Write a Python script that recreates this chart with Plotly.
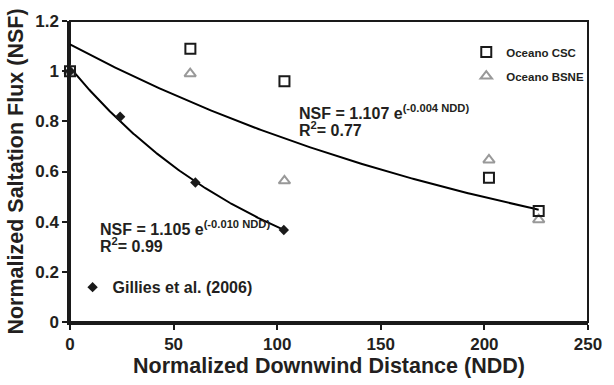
import numpy as np
import plotly.graph_objects as go

# Data
gillies_x = [0, 24.2, 60.5, 103.2]
gillies_y = [1.0, 0.818, 0.556, 0.367]
csc_x = [0, 58.1, 103.5, 202.2, 226.2]
csc_y = [1.0, 1.089, 0.96, 0.575, 0.443]
bsne_x = [0, 58.0, 103.5, 202.2, 226.2]
bsne_y = [1.0, 0.99, 0.563, 0.646, 0.408]

# Fit coefficients printed on the chart (Oceano combined fit)
oceano_a = 1.107
oceano_b = -0.004

FONT = "Liberation Sans, Arial, Helvetica, sans-serif"
TXT = "#231f20"

fig = go.Figure()

# Oceano exponential trend
xo = np.linspace(0, max(csc_x), 200)
fig.add_trace(go.Scatter(x=xo, y=oceano_a * np.exp(oceano_b * xo), mode="lines",
                         line=dict(color="black", width=2), showlegend=False,
                         hoverinfo="skip"))

# Gillies exponential trend (least-squares fit on log values)
gb, ga = np.polyfit(gillies_x, np.log(gillies_y), 1)
xg = np.linspace(0, max(gillies_x), 200)
fig.add_trace(go.Scatter(x=xg, y=np.exp(ga) * np.exp(gb * xg), mode="lines",
                         line=dict(color="black", width=2), showlegend=False,
                         hoverinfo="skip"))

fig.add_trace(go.Scatter(x=bsne_x, y=bsne_y, mode="markers", name="Oceano BSNE",
                         marker=dict(symbol="triangle-up-open", size=10,
                                     color="#999999", line=dict(width=2)),
                         cliponaxis=False, legend="legend", legendrank=2,
                         legendgroup="bsne"))
fig.add_trace(go.Scatter(x=csc_x, y=csc_y, mode="markers", name="Oceano CSC",
                         marker=dict(symbol="square-open", size=10,
                                     color="#1a1a1a", line=dict(width=2)),
                         cliponaxis=False, legend="legend", legendrank=1,
                         legendgroup="csc"))
fig.add_trace(go.Scatter(x=gillies_x, y=gillies_y, mode="markers",
                         name="Gillies et al. (2006)",
                         marker=dict(symbol="diamond", size=8, color="#1a1a1a"),
                         cliponaxis=False, legend="legend2"))


def eq(line1, line2):
    s = "<span style='font-size:16px'><b>%s</b></span>"
    return (s % line1) + "<br>" + (s % line2)


for xx, yy, txt in [
    (109.8, 0.88, eq("NSF = 1.107 e<sup>(-0.004 NDD)</sup>", "R<sup>2</sup>= 0.77")),
    (14.2, 0.42, eq("NSF = 1.105 e<sup>(-0.010 NDD)</sup>", "R<sup>2</sup>= 0.99")),
]:
    fig.add_annotation(x=xx, y=yy, xref="x", yref="y", xanchor="left",
                       yanchor="top", text=txt, showarrow=False, align="left",
                       font=dict(family=FONT, size=13, color=TXT), borderpad=0)

axis_common = dict(showgrid=False, zeroline=False, showline=True, linecolor="#1a1a1a",
                   linewidth=2.5, ticks="outside", ticklen=5, tickwidth=2,
                   tickcolor="#1a1a1a", mirror=False,
                   tickfont=dict(family=FONT, size=17, color=TXT, weight="bold"))

fig.update_layout(
    width=614, height=385,
    margin=dict(l=70, r=17, t=15, b=59),
    paper_bgcolor="white", plot_bgcolor="white",
    font=dict(family=FONT, color=TXT),
    xaxis=dict(range=[0, 250], dtick=50,
               title=dict(text="<b>Normalized Downwind Distance (NDD)</b>",
                          font=dict(family=FONT, size=21.5, color=TXT), standoff=4),
               **axis_common),
    yaxis=dict(range=[0, 1.2], dtick=0.2,
               title=dict(text="<b>Normalized Saltation Flux (NSF)</b>",
                          font=dict(family=FONT, size=21.5, color=TXT), standoff=6),
               **axis_common),
    legend=dict(x=0.765, y=0.945, xanchor="left", yanchor="top",
                bgcolor="rgba(0,0,0,0)", tracegroupgap=5,
                font=dict(family=FONT, size=11.5, color=TXT, weight="bold")),
    legend2=dict(x=0.005, y=0.172, xanchor="left", yanchor="top",
                 bgcolor="rgba(0,0,0,0)",
                 font=dict(family=FONT, size=16, color=TXT, weight="bold")),
)

# thin frame on top and right
fig.add_shape(type="rect", xref="paper", yref="paper", x0=0, y0=0, x1=1, y1=1,
              line=dict(color="#1a1a1a", width=2), layer="below")

fig.write_html("out.html")
